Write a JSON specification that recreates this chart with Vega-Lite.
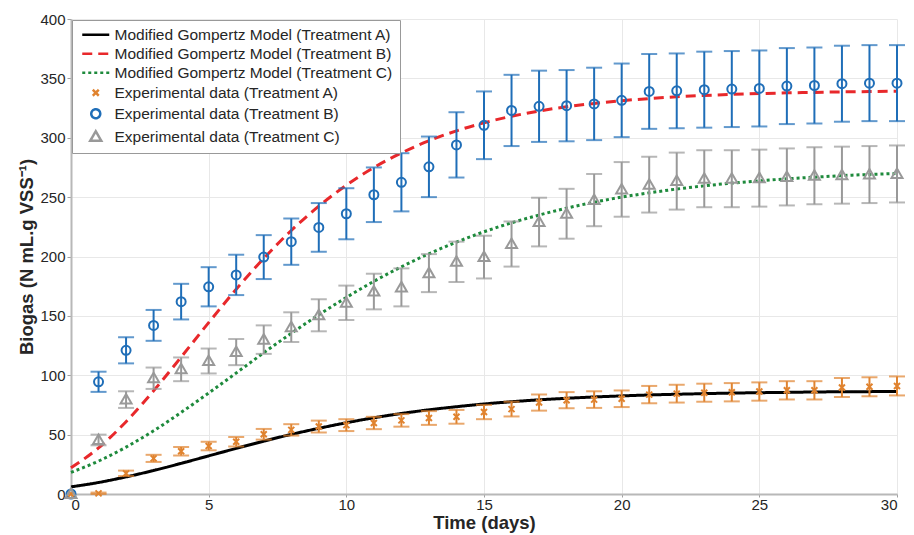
{
  "$schema": "https://vega.github.io/schema/vega-lite/v6.json",
  "autosize": {"type": "none"},
  "width": 826,
  "height": 475,
  "padding": {"left": 71, "top": 19, "right": 17, "bottom": 41},
  "background": "white",
  "config": {
    "view": {"stroke": null},
    "font": "Liberation Sans",
    "axis": {
      "labelFont": "Liberation Sans",
      "labelFontSize": 15,
      "labelColor": "#262626",
      "titleFont": "Liberation Sans",
      "titleFontWeight": "bold",
      "titleColor": "#262626",
      "gridColor": "#e8e8e8",
      "gridWidth": 1,
      "domainColor": "#b8b8b8",
      "domainWidth": 2,
      "tickColor": "#a0a0a0",
      "tickSize": 4
    },
    "legend": {
      "orient": "top-left",
      "offset": 1,
      "padding": 7,
      "strokeColor": "#999999",
      "fillColor": "white",
      "labelFont": "Liberation Sans",
      "labelFontSize": 15.5,
      "labelColor": "#262626",
      "labelLimit": 400,
      "rowPadding": 2,
      "symbolSize": 100,
      "symbolStrokeWidth": 2.5,
      "symbolOffset": 9,
      "labelOffset": 11
    }
  },
  "datasets": {
    "model": [
      {"t":0,"s":"Modified Gompertz Model (Treatment A)","v":6.0},
      {"t":1,"s":"Modified Gompertz Model (Treatment A)","v":9.7},
      {"t":2,"s":"Modified Gompertz Model (Treatment A)","v":14.4},
      {"t":3,"s":"Modified Gompertz Model (Treatment A)","v":19.8},
      {"t":4,"s":"Modified Gompertz Model (Treatment A)","v":25.8},
      {"t":5,"s":"Modified Gompertz Model (Treatment A)","v":32.1},
      {"t":6,"s":"Modified Gompertz Model (Treatment A)","v":38.4},
      {"t":7,"s":"Modified Gompertz Model (Treatment A)","v":44.5},
      {"t":8,"s":"Modified Gompertz Model (Treatment A)","v":50.2},
      {"t":9,"s":"Modified Gompertz Model (Treatment A)","v":55.3},
      {"t":10,"s":"Modified Gompertz Model (Treatment A)","v":60.0},
      {"t":11,"s":"Modified Gompertz Model (Treatment A)","v":64.2},
      {"t":12,"s":"Modified Gompertz Model (Treatment A)","v":67.8},
      {"t":13,"s":"Modified Gompertz Model (Treatment A)","v":70.9},
      {"t":14,"s":"Modified Gompertz Model (Treatment A)","v":73.5},
      {"t":15,"s":"Modified Gompertz Model (Treatment A)","v":75.8},
      {"t":16,"s":"Modified Gompertz Model (Treatment A)","v":77.7},
      {"t":17,"s":"Modified Gompertz Model (Treatment A)","v":79.3},
      {"t":18,"s":"Modified Gompertz Model (Treatment A)","v":80.6},
      {"t":19,"s":"Modified Gompertz Model (Treatment A)","v":81.7},
      {"t":20,"s":"Modified Gompertz Model (Treatment A)","v":82.6},
      {"t":21,"s":"Modified Gompertz Model (Treatment A)","v":83.4},
      {"t":22,"s":"Modified Gompertz Model (Treatment A)","v":84.0},
      {"t":23,"s":"Modified Gompertz Model (Treatment A)","v":84.5},
      {"t":24,"s":"Modified Gompertz Model (Treatment A)","v":85.0},
      {"t":25,"s":"Modified Gompertz Model (Treatment A)","v":85.3},
      {"t":26,"s":"Modified Gompertz Model (Treatment A)","v":85.6},
      {"t":27,"s":"Modified Gompertz Model (Treatment A)","v":85.9},
      {"t":28,"s":"Modified Gompertz Model (Treatment A)","v":86.1},
      {"t":29,"s":"Modified Gompertz Model (Treatment A)","v":86.2},
      {"t":30,"s":"Modified Gompertz Model (Treatment A)","v":86.4},
      {"t":0,"s":"Modified Gompertz Model (Treatment B)","v":22.0},
      {"t":1,"s":"Modified Gompertz Model (Treatment B)","v":38.8},
      {"t":2,"s":"Modified Gompertz Model (Treatment B)","v":60.9},
      {"t":3,"s":"Modified Gompertz Model (Treatment B)","v":86.9},
      {"t":4,"s":"Modified Gompertz Model (Treatment B)","v":115.3},
      {"t":5,"s":"Modified Gompertz Model (Treatment B)","v":144.3},
      {"t":6,"s":"Modified Gompertz Model (Treatment B)","v":172.4},
      {"t":7,"s":"Modified Gompertz Model (Treatment B)","v":198.4},
      {"t":8,"s":"Modified Gompertz Model (Treatment B)","v":221.9},
      {"t":9,"s":"Modified Gompertz Model (Treatment B)","v":242.4},
      {"t":10,"s":"Modified Gompertz Model (Treatment B)","v":260.0},
      {"t":11,"s":"Modified Gompertz Model (Treatment B)","v":274.9},
      {"t":12,"s":"Modified Gompertz Model (Treatment B)","v":287.2},
      {"t":13,"s":"Modified Gompertz Model (Treatment B)","v":297.5},
      {"t":14,"s":"Modified Gompertz Model (Treatment B)","v":305.8},
      {"t":15,"s":"Modified Gompertz Model (Treatment B)","v":312.6},
      {"t":16,"s":"Modified Gompertz Model (Treatment B)","v":318.1},
      {"t":17,"s":"Modified Gompertz Model (Treatment B)","v":322.5},
      {"t":18,"s":"Modified Gompertz Model (Treatment B)","v":326.1},
      {"t":19,"s":"Modified Gompertz Model (Treatment B)","v":328.9},
      {"t":20,"s":"Modified Gompertz Model (Treatment B)","v":331.2},
      {"t":21,"s":"Modified Gompertz Model (Treatment B)","v":333.0},
      {"t":22,"s":"Modified Gompertz Model (Treatment B)","v":334.5},
      {"t":23,"s":"Modified Gompertz Model (Treatment B)","v":335.6},
      {"t":24,"s":"Modified Gompertz Model (Treatment B)","v":336.5},
      {"t":25,"s":"Modified Gompertz Model (Treatment B)","v":337.2},
      {"t":26,"s":"Modified Gompertz Model (Treatment B)","v":337.8},
      {"t":27,"s":"Modified Gompertz Model (Treatment B)","v":338.2},
      {"t":28,"s":"Modified Gompertz Model (Treatment B)","v":338.6},
      {"t":29,"s":"Modified Gompertz Model (Treatment B)","v":338.9},
      {"t":30,"s":"Modified Gompertz Model (Treatment B)","v":339.2},
      {"t":0,"s":"Modified Gompertz Model (Treatment C)","v":18.2},
      {"t":1,"s":"Modified Gompertz Model (Treatment C)","v":27.7},
      {"t":2,"s":"Modified Gompertz Model (Treatment C)","v":39.5},
      {"t":3,"s":"Modified Gompertz Model (Treatment C)","v":53.2},
      {"t":4,"s":"Modified Gompertz Model (Treatment C)","v":68.7},
      {"t":5,"s":"Modified Gompertz Model (Treatment C)","v":85.0},
      {"t":6,"s":"Modified Gompertz Model (Treatment C)","v":101.9},
      {"t":7,"s":"Modified Gompertz Model (Treatment C)","v":118.9},
      {"t":8,"s":"Modified Gompertz Model (Treatment C)","v":135.3},
      {"t":9,"s":"Modified Gompertz Model (Treatment C)","v":150.9},
      {"t":10,"s":"Modified Gompertz Model (Treatment C)","v":165.5},
      {"t":11,"s":"Modified Gompertz Model (Treatment C)","v":179.1},
      {"t":12,"s":"Modified Gompertz Model (Treatment C)","v":191.3},
      {"t":13,"s":"Modified Gompertz Model (Treatment C)","v":202.3},
      {"t":14,"s":"Modified Gompertz Model (Treatment C)","v":212.1},
      {"t":15,"s":"Modified Gompertz Model (Treatment C)","v":220.8},
      {"t":16,"s":"Modified Gompertz Model (Treatment C)","v":228.4},
      {"t":17,"s":"Modified Gompertz Model (Treatment C)","v":234.9},
      {"t":18,"s":"Modified Gompertz Model (Treatment C)","v":240.7},
      {"t":19,"s":"Modified Gompertz Model (Treatment C)","v":245.7},
      {"t":20,"s":"Modified Gompertz Model (Treatment C)","v":250.0},
      {"t":21,"s":"Modified Gompertz Model (Treatment C)","v":253.6},
      {"t":22,"s":"Modified Gompertz Model (Treatment C)","v":256.8},
      {"t":23,"s":"Modified Gompertz Model (Treatment C)","v":259.5},
      {"t":24,"s":"Modified Gompertz Model (Treatment C)","v":261.8},
      {"t":25,"s":"Modified Gompertz Model (Treatment C)","v":263.7},
      {"t":26,"s":"Modified Gompertz Model (Treatment C)","v":265.4},
      {"t":27,"s":"Modified Gompertz Model (Treatment C)","v":266.8},
      {"t":28,"s":"Modified Gompertz Model (Treatment C)","v":268.1},
      {"t":29,"s":"Modified Gompertz Model (Treatment C)","v":269.1},
      {"t":30,"s":"Modified Gompertz Model (Treatment C)","v":269.9}
    ],
    "exp": [
      {"t":0,"s":"Experimental data (Treatment A)","v":0,"lo":null,"hi":null},
      {"t":1,"s":"Experimental data (Treatment A)","v":0.5,"lo":0,"hi":1.2},
      {"t":2,"s":"Experimental data (Treatment A)","v":17.4,"lo":15.1,"hi":19.7},
      {"t":3,"s":"Experimental data (Treatment A)","v":30,"lo":27,"hi":33},
      {"t":4,"s":"Experimental data (Treatment A)","v":36,"lo":32.4,"hi":39.6},
      {"t":5,"s":"Experimental data (Treatment A)","v":40.4,"lo":36.8,"hi":44},
      {"t":6,"s":"Experimental data (Treatment A)","v":44,"lo":40,"hi":48},
      {"t":7,"s":"Experimental data (Treatment A)","v":50.3,"lo":45.8,"hi":54.8},
      {"t":8,"s":"Experimental data (Treatment A)","v":54,"lo":49.2,"hi":58.8},
      {"t":9,"s":"Experimental data (Treatment A)","v":56.8,"lo":51.8,"hi":61.8},
      {"t":10,"s":"Experimental data (Treatment A)","v":58,"lo":53,"hi":63},
      {"t":11,"s":"Experimental data (Treatment A)","v":59.8,"lo":54.6,"hi":65},
      {"t":12,"s":"Experimental data (Treatment A)","v":62,"lo":56.7,"hi":67.3},
      {"t":13,"s":"Experimental data (Treatment A)","v":64,"lo":58.2,"hi":69.8},
      {"t":14,"s":"Experimental data (Treatment A)","v":65,"lo":59.2,"hi":70.8},
      {"t":15,"s":"Experimental data (Treatment A)","v":69,"lo":63,"hi":75},
      {"t":16,"s":"Experimental data (Treatment A)","v":71.5,"lo":65.3,"hi":77.7},
      {"t":17,"s":"Experimental data (Treatment A)","v":77,"lo":70.2,"hi":83.8},
      {"t":18,"s":"Experimental data (Treatment A)","v":79,"lo":72.2,"hi":85.8},
      {"t":19,"s":"Experimental data (Treatment A)","v":79.5,"lo":72.5,"hi":86.5},
      {"t":20,"s":"Experimental data (Treatment A)","v":80.2,"lo":73.2,"hi":87.2},
      {"t":21,"s":"Experimental data (Treatment A)","v":83.7,"lo":76.4,"hi":91},
      {"t":22,"s":"Experimental data (Treatment A)","v":84.5,"lo":77,"hi":92},
      {"t":23,"s":"Experimental data (Treatment A)","v":85.3,"lo":77.7,"hi":92.9},
      {"t":24,"s":"Experimental data (Treatment A)","v":85.7,"lo":78,"hi":93.4},
      {"t":25,"s":"Experimental data (Treatment A)","v":86.3,"lo":78.6,"hi":94},
      {"t":26,"s":"Experimental data (Treatment A)","v":87.3,"lo":79.6,"hi":95},
      {"t":27,"s":"Experimental data (Treatment A)","v":87.3,"lo":79.6,"hi":95},
      {"t":28,"s":"Experimental data (Treatment A)","v":89.7,"lo":81.7,"hi":97.7},
      {"t":29,"s":"Experimental data (Treatment A)","v":90.3,"lo":82.3,"hi":98.3},
      {"t":30,"s":"Experimental data (Treatment A)","v":91,"lo":83,"hi":99},
      {"t":0,"s":"Experimental data (Treatment B)","v":0,"lo":null,"hi":null},
      {"t":1,"s":"Experimental data (Treatment B)","v":94.5,"lo":86,"hi":103},
      {"t":2,"s":"Experimental data (Treatment B)","v":121,"lo":110,"hi":132},
      {"t":3,"s":"Experimental data (Treatment B)","v":142,"lo":129,"hi":155},
      {"t":4,"s":"Experimental data (Treatment B)","v":162,"lo":147,"hi":177},
      {"t":5,"s":"Experimental data (Treatment B)","v":174.5,"lo":158,"hi":191},
      {"t":6,"s":"Experimental data (Treatment B)","v":184.5,"lo":167.5,"hi":201.5},
      {"t":7,"s":"Experimental data (Treatment B)","v":199.5,"lo":181,"hi":218},
      {"t":8,"s":"Experimental data (Treatment B)","v":212.5,"lo":193,"hi":232},
      {"t":9,"s":"Experimental data (Treatment B)","v":224.5,"lo":204,"hi":245},
      {"t":10,"s":"Experimental data (Treatment B)","v":236,"lo":214.5,"hi":257.5},
      {"t":11,"s":"Experimental data (Treatment B)","v":252,"lo":229,"hi":275},
      {"t":12,"s":"Experimental data (Treatment B)","v":262.5,"lo":238,"hi":287},
      {"t":13,"s":"Experimental data (Treatment B)","v":275.5,"lo":250,"hi":301},
      {"t":14,"s":"Experimental data (Treatment B)","v":294,"lo":266.5,"hi":321.5},
      {"t":15,"s":"Experimental data (Treatment B)","v":310.5,"lo":282,"hi":339},
      {"t":16,"s":"Experimental data (Treatment B)","v":323,"lo":293,"hi":353},
      {"t":17,"s":"Experimental data (Treatment B)","v":326.5,"lo":296.5,"hi":356.5},
      {"t":18,"s":"Experimental data (Treatment B)","v":327,"lo":297,"hi":357},
      {"t":19,"s":"Experimental data (Treatment B)","v":328.5,"lo":298,"hi":359},
      {"t":20,"s":"Experimental data (Treatment B)","v":331.5,"lo":300.5,"hi":362.5},
      {"t":21,"s":"Experimental data (Treatment B)","v":339,"lo":307.5,"hi":370.5},
      {"t":22,"s":"Experimental data (Treatment B)","v":339.5,"lo":308,"hi":371},
      {"t":23,"s":"Experimental data (Treatment B)","v":340.5,"lo":308.5,"hi":372.5},
      {"t":24,"s":"Experimental data (Treatment B)","v":341,"lo":309,"hi":373},
      {"t":25,"s":"Experimental data (Treatment B)","v":341.5,"lo":309.5,"hi":373.5},
      {"t":26,"s":"Experimental data (Treatment B)","v":343.5,"lo":311.5,"hi":375.5},
      {"t":27,"s":"Experimental data (Treatment B)","v":344,"lo":312,"hi":376},
      {"t":28,"s":"Experimental data (Treatment B)","v":345.5,"lo":313.5,"hi":377.5},
      {"t":29,"s":"Experimental data (Treatment B)","v":346,"lo":314,"hi":378},
      {"t":30,"s":"Experimental data (Treatment B)","v":346,"lo":314,"hi":378},
      {"t":0,"s":"Experimental data (Treatment C)","v":0,"lo":null,"hi":null},
      {"t":1,"s":"Experimental data (Treatment C)","v":45.5,"lo":41,"hi":50},
      {"t":2,"s":"Experimental data (Treatment C)","v":79.5,"lo":72.5,"hi":86.5},
      {"t":3,"s":"Experimental data (Treatment C)","v":97.5,"lo":88.5,"hi":106.5},
      {"t":4,"s":"Experimental data (Treatment C)","v":105,"lo":95,"hi":115},
      {"t":5,"s":"Experimental data (Treatment C)","v":112,"lo":101.5,"hi":122.5},
      {"t":6,"s":"Experimental data (Treatment C)","v":119.5,"lo":108.5,"hi":130.5},
      {"t":7,"s":"Experimental data (Treatment C)","v":130,"lo":118,"hi":142},
      {"t":8,"s":"Experimental data (Treatment C)","v":140.5,"lo":128,"hi":153},
      {"t":9,"s":"Experimental data (Treatment C)","v":150.5,"lo":137,"hi":164},
      {"t":10,"s":"Experimental data (Treatment C)","v":161,"lo":146.5,"hi":175.5},
      {"t":11,"s":"Experimental data (Treatment C)","v":170.5,"lo":155.5,"hi":185.5},
      {"t":12,"s":"Experimental data (Treatment C)","v":174,"lo":158,"hi":190},
      {"t":13,"s":"Experimental data (Treatment C)","v":186,"lo":170,"hi":202},
      {"t":14,"s":"Experimental data (Treatment C)","v":195.5,"lo":178.5,"hi":212.5},
      {"t":15,"s":"Experimental data (Treatment C)","v":199.5,"lo":181.5,"hi":217.5},
      {"t":16,"s":"Experimental data (Treatment C)","v":210.5,"lo":191.5,"hi":229.5},
      {"t":17,"s":"Experimental data (Treatment C)","v":229,"lo":208.5,"hi":249.5},
      {"t":18,"s":"Experimental data (Treatment C)","v":236,"lo":215,"hi":257},
      {"t":19,"s":"Experimental data (Treatment C)","v":247.5,"lo":225.5,"hi":269.5},
      {"t":20,"s":"Experimental data (Treatment C)","v":256.5,"lo":233.5,"hi":279.5},
      {"t":21,"s":"Experimental data (Treatment C)","v":260.5,"lo":237,"hi":284},
      {"t":22,"s":"Experimental data (Treatment C)","v":263.5,"lo":239.5,"hi":287.5},
      {"t":23,"s":"Experimental data (Treatment C)","v":265.5,"lo":241.5,"hi":289.5},
      {"t":24,"s":"Experimental data (Treatment C)","v":265.5,"lo":241.5,"hi":289.5},
      {"t":25,"s":"Experimental data (Treatment C)","v":266,"lo":242,"hi":290},
      {"t":26,"s":"Experimental data (Treatment C)","v":267,"lo":243,"hi":291},
      {"t":27,"s":"Experimental data (Treatment C)","v":268,"lo":244,"hi":292},
      {"t":28,"s":"Experimental data (Treatment C)","v":268.5,"lo":244.5,"hi":292.5},
      {"t":29,"s":"Experimental data (Treatment C)","v":269,"lo":245,"hi":293},
      {"t":30,"s":"Experimental data (Treatment C)","v":269.5,"lo":245.5,"hi":293.5}
    ]
  },
  "layer": [
    {
      "data": {"name": "model"},
      "mark": {"type": "line", "strokeWidth": 3, "interpolate": "monotone"},
      "encoding": {
        "x": {"field": "t", "type": "quantitative", "title": "Time (days)", "scale": {"domain": [0, 30], "nice": false},
              "axis": {"values": [0,5,10,15,20,25,30], "titleFontSize": 18.5, "titlePadding": 1, "labelPadding": 0, "tickSize": 3, "grid": true}},
        "y": {"field": "v", "type": "quantitative", "title": "Biogas (N mL.g VSS⁻¹)", "scale": {"domain": [0, 400], "nice": false},
              "axis": {"values": [0,50,100,150,200,250,300,350,400], "titleFontSize": 18.5, "titlePadding": 3, "labelPadding": 2, "grid": true}},
        "color": {"field": "s", "type": "nominal",
          "scale": {"domain": ["Modified Gompertz Model (Treatment A)","Modified Gompertz Model (Treatment B)","Modified Gompertz Model (Treatment C)","Experimental data (Treatment A)","Experimental data (Treatment B)","Experimental data (Treatment C)"],
                    "range": ["#000000","#e8282b","#1e8a3c","#e0832f","#1f6eb8","#999999"]},
          "legend": {"title": null}},
        "strokeDash": {"field": "s", "type": "nominal",
          "scale": {"domain": ["Modified Gompertz Model (Treatment A)","Modified Gompertz Model (Treatment B)","Modified Gompertz Model (Treatment C)","Experimental data (Treatment A)","Experimental data (Treatment B)","Experimental data (Treatment C)"],
                    "range": [[1,0],[10,6],[3,3],[1,0],[1,0],[1,0]]},
          "legend": {"title": null}}
      }
    },
    {
      "data": {"name": "exp"},
      "transform": [{"filter": {"field": "s", "equal": "Experimental data (Treatment A)"}}],
      "mark": {"type": "errorbar", "ticks": true, "size": 16, "thickness": 2, "color": "#e0832f"},
      "encoding": {
        "x": {"field": "t", "type": "quantitative", "title": "Time (days)"},
        "y": {"field": "lo", "type": "quantitative", "title": "Biogas (N mL.g VSS⁻¹)"},
        "y2": {"field": "hi"}
      }
    },
    {
      "data": {"name": "exp"},
      "transform": [{"filter": {"field": "s", "equal": "Experimental data (Treatment B)"}}],
      "mark": {"type": "errorbar", "ticks": true, "size": 16, "thickness": 2, "color": "#1f6eb8"},
      "encoding": {
        "x": {"field": "t", "type": "quantitative", "title": "Time (days)"},
        "y": {"field": "lo", "type": "quantitative", "title": "Biogas (N mL.g VSS⁻¹)"},
        "y2": {"field": "hi"}
      }
    },
    {
      "data": {"name": "exp"},
      "transform": [{"filter": {"field": "s", "equal": "Experimental data (Treatment C)"}}],
      "mark": {"type": "errorbar", "ticks": true, "size": 16, "thickness": 2, "color": "#999999"},
      "encoding": {
        "x": {"field": "t", "type": "quantitative", "title": "Time (days)"},
        "y": {"field": "lo", "type": "quantitative", "title": "Biogas (N mL.g VSS⁻¹)"},
        "y2": {"field": "hi"}
      }
    },
    {
      "data": {"name": "exp"},
      "mark": {"type": "point", "filled": false, "strokeWidth": 2, "opacity": 1, "size": 100},
      "encoding": {
        "x": {"field": "t", "type": "quantitative", "title": "Time (days)"},
        "y": {"field": "v", "type": "quantitative", "title": "Biogas (N mL.g VSS⁻¹)"},
        "color": {"field": "s", "type": "nominal", "legend": {"title": null}},
        "shape": {"field": "s", "type": "nominal",
          "scale": {"domain": ["Modified Gompertz Model (Treatment A)","Modified Gompertz Model (Treatment B)","Modified Gompertz Model (Treatment C)","Experimental data (Treatment A)","Experimental data (Treatment B)","Experimental data (Treatment C)"],
                    "range": ["M-2.7,0L2.7,0","M-2.7,0L2.7,0","M-2.7,0L2.7,0","M-0.6,-0.6L0.6,0.6M-0.6,0.6L0.6,-0.6","M0.9,0A0.9,0.9 0 1,1 -0.9,0A0.9,0.9 0 1,1 0.9,0Z","M0,-1.1L1.1,0.8L-1.1,0.8Z"]},
          "legend": {"title": null}}
      }
    }
  ]
}
